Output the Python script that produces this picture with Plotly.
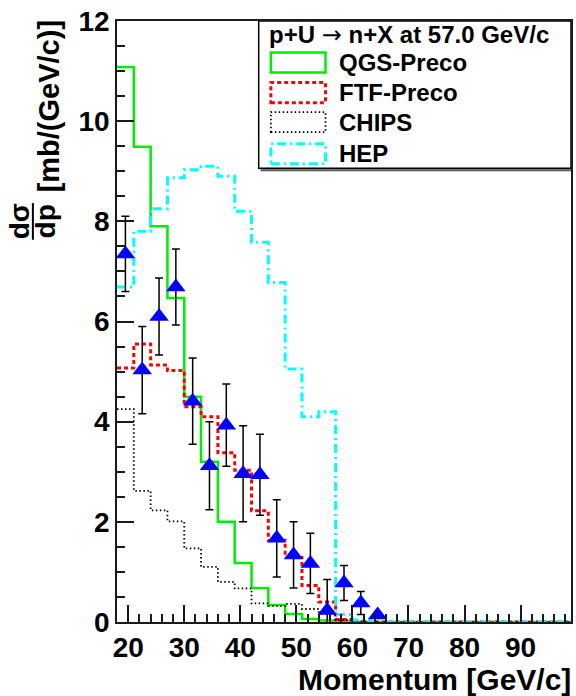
import plotly.graph_objects as go

# ---------------- data ----------------
bin_edges = [18, 21, 24, 27, 30, 33, 36, 39, 42, 45, 48, 51, 54, 57, 60, 63, 66, 69,
             72, 75, 78, 81, 84, 87, 90, 93, 96, 99]

qgs_preco = [11.08, 9.49, 7.90, 6.47, 4.50, 3.20, 2.00, 1.18, 0.68, 0.34, 0.16, 0.06,
             0.03, 0.01, 0, 0, 0, 0, 0, 0, 0, 0, 0, 0, 0, 0, 0]
ftf_preco = [5.07, 5.55, 5.13, 5.02, 4.30, 4.10, 3.38, 3.03, 2.22, 1.63, 1.29, 0.73,
             0.40, 0.05, 0.01, 0, 0, 0, 0, 0, 0, 0, 0, 0, 0, 0, 0]
chips = [4.25, 2.62, 2.23, 2.01, 1.47, 1.10, 0.80, 0.67, 0.37, 0.32, 0.36, 0.26,
         0.17, 0.04, 0.01, 0, 0, 0, 0, 0, 0, 0, 0, 0, 0, 0, 0]
hep = [6.69, 7.80, 8.25, 8.87, 9.03, 9.10, 8.90, 8.20, 7.58, 6.78, 5.05, 4.10,
       4.20, 0.15, 0.04, 0, 0, 0, 0, 0, 0, 0, 0, 0, 0, 0, 0]

data_p = [19.5, 22.5, 25.5, 28.5, 31.5, 34.5, 37.5, 40.5, 43.5, 46.5, 49.5, 52.5,
          55.5, 58.5, 61.5, 64.5]
data_val = [7.35, 5.03, 6.10, 6.69, 4.41, 3.12, 3.93, 2.96, 2.94, 1.67, 1.34, 1.17,
            0.23, 0.78, 0.38, 0.14]
data_err = [0.75, 0.87, 0.77, 0.76, 0.86, 0.88, 0.82, 0.96, 0.81, 0.77, 0.66, 0.60,
            0.62, 0.35, 0.23, 0.04]

y_ticks = [0, 2, 4, 6, 8, 10, 12]
x_ticks = [20, 30, 40, 50, 60, 70, 80, 90]

legend_title = ("p+U <span style='font-family:DejaVu Sans;font-weight:normal'>\u2192</span>"
                " n+X at 57.0 GeV/c")
series_names = ["QGS-Preco", "FTF-Preco", "CHIPS", "HEP"]

# ---------------- styles ----------------
FONT = "Liberation Sans, Arial, Helvetica, sans-serif"
styles = [
    dict(color="#00ee00", width=2.5, dash="solid"),
    dict(color="#ff0000", width=3, dash="4px,3px"),
    dict(color="#000000", width=1.8, dash="1.5px,2.5px"),
    dict(color="#00ffff", width=3, dash="9px,4px,2px,4px"),
]
series = [qgs_preco, ftf_preco, chips, hep]

fig = go.Figure()

for vals, st, name in zip(series, styles, series_names):
    fig.add_trace(go.Scatter(
        x=bin_edges, y=list(vals) + [vals[-1]],
        mode="lines", line=dict(shape="hv", **st),
        name=name, showlegend=False, hoverinfo="skip"))

fig.add_trace(go.Scatter(
    x=data_p, y=data_val, mode="markers",
    marker=dict(symbol="triangle-up", size=17, color="#0000ff", line=dict(width=0)),
    error_y=dict(type="data", array=data_err, visible=True, color="#000000",
                 thickness=1.5, width=4),
    showlegend=False, name="data"))

# ---------------- axes ----------------
axis_common = dict(
    showline=True, linecolor="#1a1a1a", linewidth=1.5, mirror=True,
    ticks="inside", tickcolor="#1a1a1a", tickwidth=1.5, ticklen=17,
    showgrid=False, zeroline=False,
    tickfont=dict(family=FONT, size=28, color="black", weight="bold"),
)
fig.update_xaxes(range=[18, 99], tickvals=x_ticks,
                 minor=dict(dtick=2, ticklen=8, tickwidth=1.5, tickcolor="#1a1a1a",
                            ticks="inside", showgrid=False),
                 **axis_common)
fig.update_yaxes(range=[0, 12], tickvals=y_ticks,
                 minor=dict(dtick=0.5, ticklen=8, tickwidth=1.5, tickcolor="#1a1a1a",
                            ticks="inside", showgrid=False),
                 **axis_common)

# ---------------- legend (custom box) ----------------
shapes = []
shapes.append(dict(type="line", xref="x", yref="y", x0=43.6, x1=99, y0=9.02, y1=9.02,
                   line=dict(color="#555555", width=2), layer="above"))
shapes.append(dict(type="rect", xref="x", yref="y", x0=43.28, x1=99, y0=9.06, y1=12,
                   line=dict(color="black", width=1.5), fillcolor="white", layer="above"))
entry_y = [11.17, 10.57, 9.98, 9.35]
for ey, st in zip(entry_y, styles):
    shapes.append(dict(type="rect", xref="x", yref="y", x0=45.45, x1=55.2,
                       y0=ey - 0.2, y1=ey + 0.2,
                       line=dict(color=st["color"], width=st["width"], dash=st["dash"]),
                       fillcolor="rgba(0,0,0,0)", layer="above"))
# fraction bar of the y title
shapes.append(dict(type="line", xref="paper", yref="paper",
                   x0=-0.1853, x1=-0.1853, y0=0.636, y1=0.697,
                   line=dict(color="black", width=2)))

annotations = []
annotations.append(dict(xref="x", yref="y", x=44.79, y=11.72, text=legend_title,
                        showarrow=False, xanchor="left", yanchor="middle",
                        font=dict(family=FONT, size=24, color="black", weight="bold")))
for ey, name in zip(entry_y, series_names):
    annotations.append(dict(xref="x", yref="y", x=57.2, y=ey, text=name,
                            showarrow=False, xanchor="left", yanchor="middle",
                            font=dict(family=FONT, size=24, color="black", weight="bold")))

# x title
annotations.append(dict(xref="paper", yref="paper", x=1.004, y=-0.095,
                        text="Momentum [GeV/c]", showarrow=False,
                        xanchor="right", yanchor="middle",
                        font=dict(family=FONT, size=30, color="black", weight="bold")))
# y title pieces
annotations.append(dict(xref="paper", yref="paper", x=-0.149, y=1.005,
                        text="[mb/(GeV/c)]", showarrow=False, textangle=-90,
                        xanchor="center", yanchor="top",
                        font=dict(family=FONT, size=29, color="black", weight="bold")))
annotations.append(dict(xref="paper", yref="paper", x=-0.2155, y=0.667,
                        text="d\u03c3", showarrow=False, textangle=-90,
                        xanchor="center", yanchor="middle",
                        font=dict(family=FONT, size=28, color="black", weight="bold")))
annotations.append(dict(xref="paper", yref="paper", x=-0.158, y=0.667,
                        text="dp", showarrow=False, textangle=-90,
                        xanchor="center", yanchor="middle",
                        font=dict(family=FONT, size=28, color="black", weight="bold")))

fig.update_layout(
    width=576, height=696,
    margin=dict(l=117, r=3, t=21, b=74, pad=0),
    paper_bgcolor="white", plot_bgcolor="white",
    shapes=shapes, annotations=annotations,
    showlegend=False,
)

fig.write_html("out.html", config={"displayModeBar": False},
               post_script="document.body.style.margin='0';")
